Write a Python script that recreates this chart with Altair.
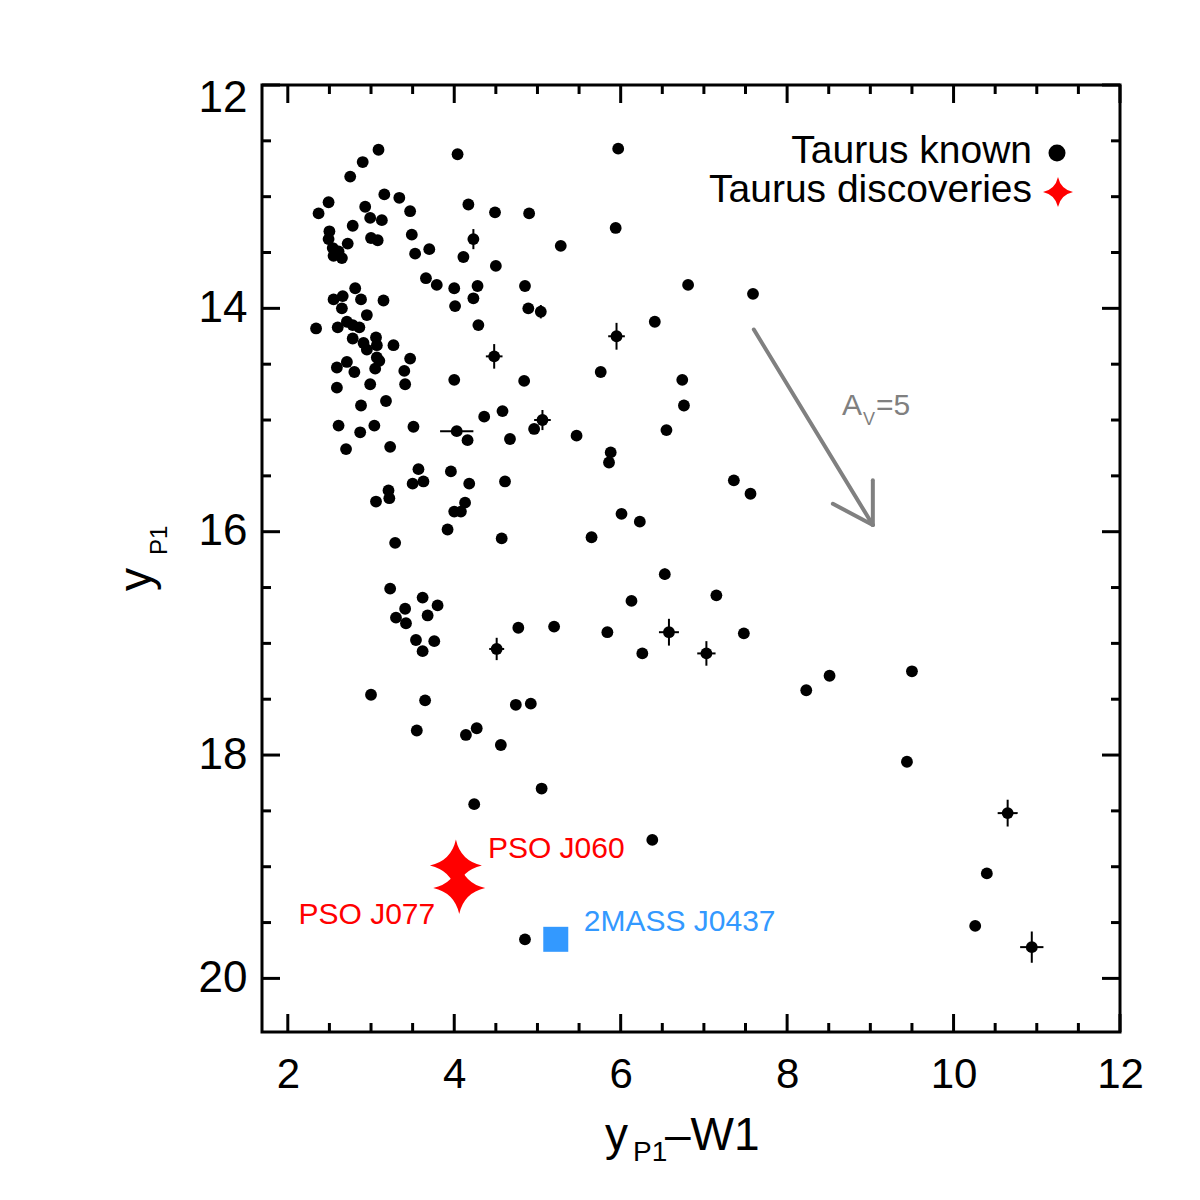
import altair as alt
import pandas as pd

# ---------------- data ----------------
known_x = [3.09, 4.04, 5.97, 2.90, 2.75, 3.16, 3.34, 2.49, 2.37, 2.93, 2.99, 3.13, 3.47, 4.17, 4.49, 4.90,
           5.94, 2.78, 2.50, 2.49, 2.54, 2.61, 2.55, 2.65, 2.72, 3.00, 3.08, 3.49, 4.23, 3.53, 3.70, 4.11,
           4.50, 5.28, 3.66, 3.79, 4.00, 4.28, 4.85, 6.81, 2.81, 2.66, 2.55, 2.88, 3.15, 2.65, 4.01, 4.23,
           4.89, 5.04, 2.95, 2.34, 2.60, 2.71, 2.78, 2.86, 4.29, 6.41, 5.95, 2.78, 3.06, 2.91, 3.07, 2.95,
           3.27, 4.48, 3.07, 3.10, 3.05, 2.71, 2.59, 2.80, 3.47, 3.40, 4.00, 4.84, 5.76, 6.74, 2.59, 2.99,
           3.41, 6.76, 2.88, 3.18, 4.36, 4.58, 5.06, 4.96, 2.61, 2.87, 3.04, 3.51, 4.03, 4.16, 4.67, 5.47,
           6.55, 2.70, 3.23, 5.88, 5.86, 3.57, 3.50, 3.63, 3.96, 4.18, 4.61, 3.21, 3.22, 3.06, 4.13, 4.00,
           4.08, 6.01, 6.23, 3.92, 3.29, 4.57, 5.65, 7.59, 7.36, 7.56, 6.53, 3.23, 3.62, 3.80, 3.41, 3.30,
           3.68, 3.42, 6.13, 7.15, 4.77, 5.20, 5.84, 6.58, 7.48, 3.54, 3.76, 3.62, 4.51, 6.26, 7.03, 8.23,
           8.51, 9.50, 3.00, 3.65, 4.74, 4.92, 3.55, 4.14, 4.27, 4.56, 9.44, 5.05, 4.24, 10.65, 6.38, 10.40,
           10.26, 4.85, 10.94]
known_y = [12.58, 12.62, 12.57, 12.69, 12.82, 12.98, 13.01, 13.05, 13.15, 13.09, 13.19, 13.21, 13.13, 13.07,
           13.14, 13.15, 13.28, 13.26, 13.31, 13.38, 13.46, 13.49, 13.53, 13.55, 13.42, 13.37, 13.39, 13.34,
           13.38, 13.51, 13.47, 13.54, 13.62, 13.44, 13.73, 13.79, 13.82, 13.80, 13.80, 13.79, 13.82, 13.89,
           13.92, 13.92, 13.93, 14.00, 13.98, 13.91, 14.00, 14.03, 14.06, 14.18, 14.17, 14.12, 14.15, 14.17,
           14.15, 14.12, 14.25, 14.27, 14.26, 14.31, 14.33, 14.37, 14.33, 14.43, 14.44, 14.47, 14.54, 14.48,
           14.53, 14.57, 14.45, 14.56, 14.64, 14.65, 14.57, 14.64, 14.71, 14.68, 14.68, 14.87, 14.87, 14.83,
           14.97, 14.92, 15.00, 15.08, 15.05, 15.11, 15.05, 15.06, 15.10, 15.18, 15.17, 15.14, 15.09, 15.26,
           15.24, 15.29, 15.38, 15.44, 15.57, 15.55, 15.46, 15.57, 15.55, 15.63, 15.70, 15.73, 15.74, 15.82,
           15.82, 15.84, 15.91, 15.98, 16.10, 16.06, 16.05, 13.87, 15.54, 15.66, 16.38, 16.51, 16.59, 16.66,
           16.69, 16.77, 16.75, 16.82, 16.62, 16.57, 16.86, 16.85, 16.90, 16.90, 16.91, 16.97, 16.98, 17.07,
           17.05, 17.09, 17.09, 17.42, 17.29, 17.25, 17.46, 17.51, 17.55, 17.54, 17.78, 17.82, 17.76, 17.91,
           18.06, 18.30, 18.44, 18.52, 18.76, 19.06, 19.53, 19.65, 19.72]

# error bars (only the points where they are visible)
err_x = [4.23, 5.04, 5.95, 4.48, 5.06, 4.03, 6.76, 7.59, 6.53, 6.58, 4.51, 7.03, 10.65, 10.40, 10.94]
err_y = [13.38, 14.03, 14.25, 14.43, 15.00, 15.10, 14.87, 13.87, 16.38, 16.90, 17.05, 17.09, 18.52, 19.06, 19.72]
err_dx = [0.00, 0.00, 0.10, 0.10, 0.10, 0.20, 0.00, 0.06, 0.00, 0.12, 0.09, 0.11, 0.12, 0.00, 0.14]
err_dy = [0.09, 0.06, 0.12, 0.11, 0.09, 0.00, 0.05, 0.00, 0.05, 0.12, 0.10, 0.11, 0.12, 0.04, 0.14]

disc_x = [4.02, 4.06]
disc_y = [18.99, 19.19]
disc_names = ["PSO J060", "PSO J077"]

tmass_x = [5.22]
tmass_y = [19.65]
tmass_names = ["2MASS J0437"]

# reddening vector A_V = 5 (shaft + two head strokes)
arrow_x0 = [7.60, 9.03, 9.03]
arrow_y0 = [14.19, 15.94, 15.94]
arrow_x1 = [9.03, 8.55, 9.03]
arrow_y1 = [15.94, 15.75, 15.54]

x_major = [2, 4, 6, 8, 10, 12]
x_minor = [2.5, 3, 3.5, 4.5, 5, 5.5, 6.5, 7, 7.5, 8.5, 9, 9.5, 10.5, 11, 11.5]
y_major = [12, 14, 16, 18, 20]
y_minor = [12.5, 13, 13.5, 14.5, 15, 15.5, 16.5, 17, 17.5, 18.5, 19, 19.5]

# ---------------- chart ----------------
W, H = 858, 947
FONT = "Liberation Sans"
STAR = "M0,-1 Q0.18,-0.18 1,0 Q0.18,0.18 0,1 Q-0.18,0.18 -1,0 Q-0.18,-0.18 0,-1 Z"

xs = alt.Scale(domain=[1.69, 12], nice=False, zero=False)
ys = alt.Scale(domain=[12, 20.48], nice=False, zero=False, reverse=True)
xax = alt.Axis(values=x_major, domain=False, ticks=False, grid=False, labelFontSize=42, labelPadding=22,
               labelFont=FONT, labelColor="black", format="d", title=None, labelFlush=False)
yax = alt.Axis(values=y_major, domain=False, ticks=False, grid=False, labelFontSize=44, labelPadding=15,
               labelFont=FONT, labelColor="black", format="d", title=None, labelFlush=True,
               labelFlushOffset=9)


def X(f):
    return alt.X(f, scale=xs, axis=xax, title=None)


def Y(f):
    return alt.Y(f, scale=ys, axis=yax, title=None)


known = pd.DataFrame({"x": known_x, "y": known_y})
err = pd.DataFrame({"x": err_x, "y": err_y, "dx": err_dx, "dy": err_dy})
err["x0"] = err["x"] - err["dx"]
err["x1"] = err["x"] + err["dx"]
err["y0"] = err["y"] - err["dy"]
err["y1"] = err["y"] + err["dy"]
errh = err[err["dx"] > 0]
errv = err[err["dy"] > 0]
disc = pd.DataFrame({"x": disc_x, "y": disc_y, "name": disc_names})
tmass = pd.DataFrame({"x": tmass_x, "y": tmass_y, "name": tmass_names})
arrow = pd.DataFrame({"x0": arrow_x0, "y0": arrow_y0, "x1": arrow_x1, "y1": arrow_y1})

points = alt.Chart(known).mark_circle(size=140, color="black", opacity=1).encode(x=X("x:Q"), y=Y("y:Q"))

eh = alt.Chart(errh).mark_rule(color="black", strokeWidth=2).encode(x=X("x0:Q"), x2="x1:Q", y=Y("y:Q"))
ev = alt.Chart(errv).mark_rule(color="black", strokeWidth=2).encode(y=Y("y0:Q"), y2="y1:Q", x=X("x:Q"))

stars = alt.Chart(disc).mark_point(shape=STAR, size=2700, filled=True, color="#ff0000", opacity=1,
                                   strokeWidth=0).encode(x=X("x:Q"), y=Y("y:Q"))

lab060 = alt.Chart(disc[disc["name"] == "PSO J060"]).mark_text(
    align="left", baseline="alphabetic", dx=32, dy=-8, fontSize=30, font=FONT, color="#ff0000").encode(
    x=X("x:Q"), y=Y("y:Q"), text="name:N")
lab077 = alt.Chart(disc[disc["name"] == "PSO J077"]).mark_text(
    align="right", baseline="alphabetic", dx=-24, dy=36, fontSize=30, font=FONT, color="#ff0000").encode(
    x=X("x:Q"), y=Y("y:Q"), text="name:N")

sq = alt.Chart(tmass).mark_point(shape="square", size=625, filled=True, color="#3399ff", opacity=1,
                                 strokeWidth=0).encode(x=X("x:Q"), y=Y("y:Q"))
sqlab = alt.Chart(tmass).mark_text(align="left", baseline="alphabetic", dx=28, dy=-8, fontSize=30,
                                   font=FONT, color="#3399ff").encode(x=X("x:Q"), y=Y("y:Q"), text="name:N")

arr = alt.Chart(arrow).mark_rule(color="#808080", strokeWidth=4, strokeCap="round").encode(
    x=X("x0:Q"), y=Y("y0:Q"), x2="x1:Q", y2="y1:Q")


def txt(s, px, py, size, color="black", align="left", angle=0):
    kw = dict(align=align, baseline="alphabetic", fontSize=size, font=FONT, color=color, text=s)
    if angle:
        kw["angle"] = angle
    return alt.Chart(pd.DataFrame({"a": [0]})).mark_text(**kw).encode(x=alt.value(px), y=alt.value(py))


av = [txt("A", 580, 330, 30, "#808080"), txt("V", 601, 340, 18, "#808080"), txt("=5", 614, 330, 30, "#808080")]

leg = [
    txt("Taurus known", 770, 78, 39, align="right"),
    txt("Taurus discoveries", 770, 117, 39, align="right"),
    alt.Chart(pd.DataFrame({"a": [0]})).mark_circle(size=290, color="black", opacity=1).encode(
        x=alt.value(795), y=alt.value(68)),
    alt.Chart(pd.DataFrame({"a": [0]})).mark_point(shape=STAR, size=900, filled=True, color="#ff0000",
                                                   opacity=1, strokeWidth=0).encode(
        x=alt.value(796), y=alt.value(107)),
]

titles = [
    txt("y", 343, 1065, 46), txt("P1", 371, 1076, 28), txt("\u2013W1", 403, 1065, 46),
    txt("y", -111, 506, 46, angle=270), txt("P1", -95, 470, 24, angle=270),
]


def ticks(vals, axis, length):
    d = pd.DataFrame({"v": vals})
    out = []
    if axis == "x":
        for y0, y1 in [(0, length), (H, H - length)]:
            out.append(alt.Chart(d).mark_rule(color="black", strokeWidth=3).encode(
                x=X("v:Q"), y=alt.value(y0), y2=alt.value(y1)))
    else:
        for x0, x1 in [(0, length), (W, W - length)]:
            out.append(alt.Chart(d).mark_rule(color="black", strokeWidth=3).encode(
                y=Y("v:Q"), x=alt.value(x0), x2=alt.value(x1)))
    return out


tick_layers = (ticks(x_major, "x", 18) + ticks(x_minor, "x", 9) +
               ticks(y_major, "y", 18) + ticks(y_minor, "y", 9))

chart = alt.layer(
    points, *tick_layers, eh, ev, arr, *av, stars, lab060, lab077, sq, sqlab, *leg, *titles
).properties(
    width=W, height=H,
    autosize=alt.AutoSizeParams(type="none"),
    padding={"left": 262, "top": 85, "right": 80, "bottom": 168},
    background="white",
).configure_view(stroke="black", strokeWidth=3).configure_axis(grid=False)

chart.save("out.html", embed_options={"renderer": "svg", "actions": False})
